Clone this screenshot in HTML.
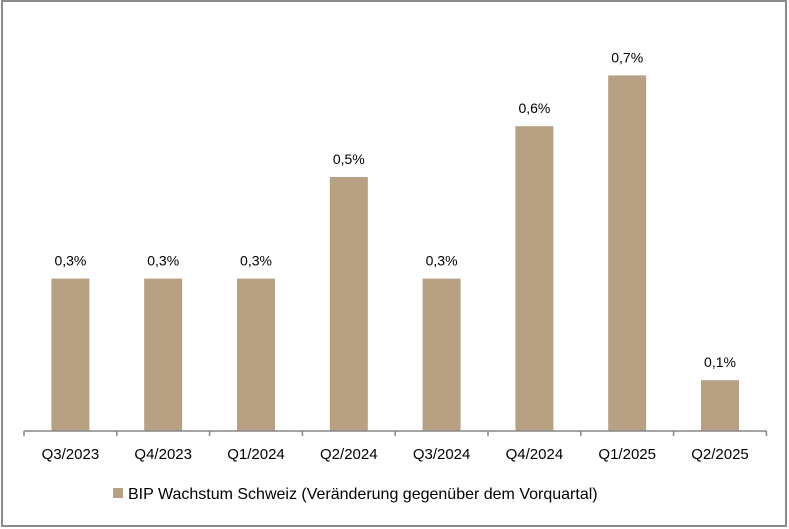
<!DOCTYPE html>
<html><head><meta charset="utf-8"><style>
html,body{margin:0;padding:0;background:#fff;}
svg{display:block;font-family:"Liberation Sans",sans-serif;}
</style></head><body>
<svg id="chart" width="789" height="529">
<rect x="2" y="1" width="784" height="525" fill="#fff" stroke="#8c8c8c" stroke-width="2"/>
<g id="marks"></g>
</svg>
<script>
const categories=["Q3/2023","Q4/2023","Q1/2024","Q2/2024","Q3/2024","Q4/2024","Q1/2025","Q2/2025"];
const values=[0.3,0.3,0.3,0.5,0.3,0.6,0.7,0.1];
const valueLabels=["0,3%","0,3%","0,3%","0,5%","0,3%","0,6%","0,7%","0,1%"];
const legendLabel="BIP Wachstum Schweiz (Veränderung gegenüber dem Vorquartal)";
const NS="http://www.w3.org/2000/svg";
const g=document.getElementById('marks');
const x0=24,bandW=92.8,baseY=431;
const y=v=>baseY-v*508;
const xc=i=>x0+bandW*(i+0.5);
function mk(t,a){const e=document.createElementNS(NS,t);for(const k in a)e.setAttribute(k,a[k]);g.appendChild(e);return e;}
categories.forEach((c,i)=>{
  const b=mk('rect',{x:xc(i)-19,y:y(values[i]),width:38,height:baseY-y(values[i]),fill:'#b8a083'});
  
  
  const l=mk('text',{x:xc(i),y:y(values[i])-13,'text-anchor':'middle','font-size':'14',fill:'#000'});
  l.textContent=valueLabels[i];
  
  
  const t=mk('text',{x:xc(i),y:459,'text-anchor':'middle','font-size':'15',fill:'#000'});
  t.textContent=c;
  
  
});
const ax=mk('line',{x1:x0,y1:baseY,x2:x0+bandW*8,y2:baseY,stroke:'#868686','stroke-width':1.5});


for(let i=0;i<=8;i++){
  const tk=mk('line',{x1:x0+bandW*i,y1:baseY,x2:x0+bandW*i,y2:baseY+5,stroke:'#868686','stroke-width':1.5});
  
  
}
const sw=mk('rect',{x:113,y:488,width:10,height:10,fill:'#b8a083'});


const lt=mk('text',{x:128,y:499,'font-size':'16',fill:'#000'});
lt.textContent=legendLabel;


</script>
</body></html>
